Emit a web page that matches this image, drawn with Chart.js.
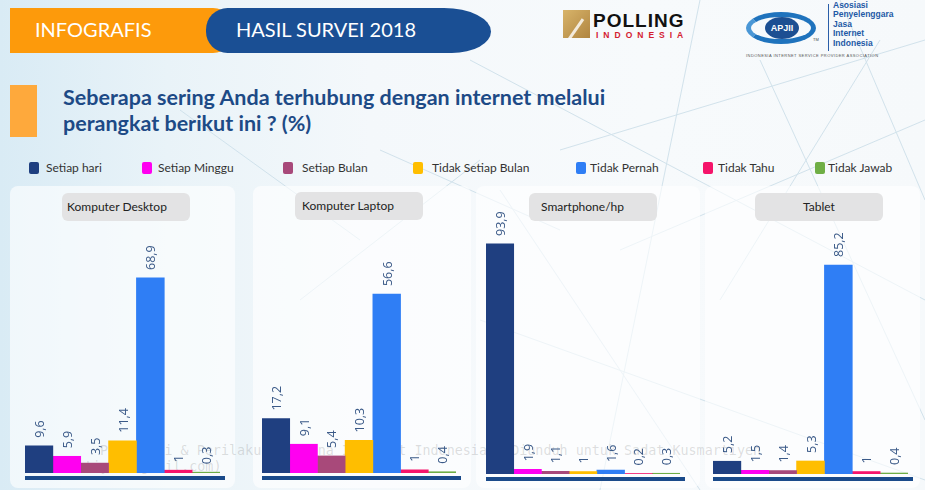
<!DOCTYPE html>
<html><head><meta charset="utf-8">
<script src="https://cdn.jsdelivr.net/npm/chart.js@4"></script>
<style>
html,body{margin:0;padding:0;}
body{width:925px;height:490px;overflow:hidden;position:relative;
 background:linear-gradient(90deg,#d9ebf5 0%,#e9f3f8 18%,#f4f8fb 40%,#f7fafc 70%,#f6f9fb 100%);
 font-family:Lato,"Open Sans",sans-serif;}
.abs{position:absolute;}
#net{position:absolute;left:0;top:0;}
.panel{position:absolute;top:186px;height:302px;background:rgba(255,255,255,0.62);border-radius:8px;}
.lbl{position:absolute;height:28px;background:#e3e3e4;border-radius:6px;font-size:12px;color:#222;line-height:28px;box-sizing:border-box;}
.leg{position:absolute;top:161px;font-size:12px;color:#333;line-height:14px;white-space:nowrap;}
.leg i{position:absolute;top:1px;width:10px;height:12px;border-radius:2px;}
canvas{position:absolute;}
.wm{position:absolute;font-family:"DejaVu Sans Mono",monospace;font-size:13.4px;color:rgba(110,110,110,0.22);white-space:nowrap;}
</style></head>
<body>
<svg id="net" width="925" height="490">
 <g stroke="#c9dde8" stroke-width="1" fill="none" opacity="0.8">
  <line x1="470" y1="60" x2="925" y2="300"/><line x1="560" y1="150" x2="925" y2="40"/>
  <line x1="700" y1="0" x2="600" y2="490"/><line x1="840" y1="0" x2="925" y2="200"/>
  <line x1="620" y1="250" x2="925" y2="120"/><line x1="480" y1="320" x2="925" y2="480"/>
  <line x1="760" y1="60" x2="925" y2="420"/><line x1="500" y1="190" x2="700" y2="490"/>
  <line x1="300" y1="300" x2="480" y2="160"/><line x1="880" y1="40" x2="720" y2="300"/>
  <line x1="180" y1="110" x2="360" y2="240"/><line x1="380" y1="150" x2="560" y2="230"/>
 </g>
</svg>

<!-- header -->
<div class="abs" style="left:10px;top:8px;width:225px;height:45px;background:#fd9a0b;border-radius:0 22px 22px 0;"></div>
<div class="abs" style="left:206px;top:8px;width:285px;height:45px;background:#1a4f94;border-radius:22px 48px 40px 22px / 22px 24px 22px 22px;"></div>
<div class="abs" style="left:35px;top:17px;font-size:20px;color:#fff;">INFOGRAFIS</div>
<div class="abs" style="left:236px;top:17px;font-size:20px;color:#fff;">HASIL SURVEI 2018</div>

<!-- polling logo -->
<div class="abs" style="left:563px;top:10px;width:27px;height:28px;background:linear-gradient(135deg,#d8b46a,#b08540);"></div>
<div class="abs" style="left:568px;top:14px;width:3px;height:24px;background:#fff;transform:rotate(35deg);transform-origin:bottom left;opacity:0.8"></div>
<div class="abs" style="left:593px;top:10px;font-family:'Liberation Sans',Arial,sans-serif;font-weight:bold;font-size:19px;letter-spacing:1px;color:#111;">POLLING</div>
<div class="abs" style="left:596px;top:30px;font-family:'Liberation Sans',Arial,sans-serif;font-weight:bold;font-size:8.5px;letter-spacing:5px;color:#d42030;">INDONESIA</div>

<!-- APJII logo -->
<div class="abs" style="left:746px;top:12px;width:70px;height:32px;border-radius:50%;border:5px solid #1f73bd;box-sizing:border-box;border-left-color:#4a97d6;"></div>
<div class="abs" style="left:765px;top:17px;width:34px;height:22px;border-radius:50%;background:#1c4f92;color:#fff;font-family:'Liberation Sans',Arial,sans-serif;font-weight:bold;font-size:9px;line-height:22px;text-align:center;">APJII</div>
<div class="abs" style="left:813px;top:37px;font-family:'Liberation Sans',Arial,sans-serif;font-size:4px;color:#444;">TM</div>
<div class="abs" style="left:828px;top:4px;width:1px;height:47px;background:#2a5ea8;"></div>
<div class="abs" style="left:833px;top:1px;font-family:'Liberation Sans',Arial,sans-serif;font-weight:bold;font-size:8.5px;line-height:9.4px;color:#1f5aa6;">Asosiasi<br>Penyelenggara<br>Jasa<br>Internet<br>Indonesia</div>
<div class="abs" style="left:746px;top:53px;font-family:'Liberation Sans',Arial,sans-serif;font-size:4px;letter-spacing:0.45px;color:#555;white-space:nowrap;">INDONESIA INTERNET SERVICE PROVIDER ASSOCIATION</div>

<!-- title -->
<div class="abs" style="left:10px;top:85px;width:27px;height:52px;background:#fea93c;"></div>
<div class="abs" style="left:63px;top:84px;font-size:21.5px;font-weight:bold;line-height:26px;color:#1d4a86;">Seberapa sering Anda terhubung dengan internet melalui<br>perangkat berikut ini ? (%)</div>

<div id="legend"></div>

<!-- panels -->
<div class="panel" style="left:10px;width:225px;"></div>
<div class="panel" style="left:253px;width:218px;"></div>
<div class="panel" style="left:476px;width:224px;"></div>
<div class="panel" style="left:705px;width:215px;"></div>

<div class="lbl" style="left:62px;top:193px;width:128px;padding-left:5px;" id="lb0"></div>
<div class="lbl" style="left:295px;top:192px;width:128px;padding-left:7px;" id="lb1"></div>
<div class="lbl" style="left:529px;top:193px;width:128px;padding-left:12px;" id="lb2"></div>
<div class="lbl" style="left:755px;top:193px;width:128px;text-align:center;" id="lb3"></div>

<div class="wm" style="left:100px;top:443px;">Penetrasi &amp; Perilaku Pengguna Internet Indonesia - Diunduh untuk Sadat Kusmartiyen</div>
<div class="wm" style="left:28px;top:459px;">(kusmartiyah9@gmail.com)</div>

<canvas id="c0" width="220" height="290" style="left:15px;top:200px;"></canvas>
<canvas id="c1" width="220" height="290" style="left:252px;top:200px;"></canvas>
<canvas id="c2" width="220" height="290" style="left:476px;top:200px;"></canvas>
<canvas id="c3" width="220" height="290" style="left:703px;top:200px;"></canvas>

<script>
// ---- data ----
const seriesNames = ["Setiap hari","Setiap Minggu","Setiap Bulan","Tidak Setiap Bulan","Tidak Pernah","Tidak Tahu","Tidak Jawab"];
const seriesColors = ["#1f3f80","#ff00f0","#a8497a","#ffbe00","#2f7ef5","#f5146a","#6fae45"];
const devices = ["Komputer Desktop","Komputer Laptop","Smartphone/hp","Tablet"];
const desktopValues = [9.6, 5.9, 3.5, 11.4, 68.9, 1, 0.3];
const laptopValues = [17.2, 9.1, 5.4, 10.3, 56.6, 1, 0.4];
const smartphoneValues = [93.9, 1.9, 1.1, 1, 1.6, 0.2, 0.3];
const tabletValues = [5.2, 1.5, 1.4, 5.3, 85.2, 1, 0.4];
const deviceValues = [desktopValues, laptopValues, smartphoneValues, tabletValues];

// ---- legend ----
const legX = [29, 142, 283, 413, 576, 703, 815];
const legTextX = [46, 158, 302, 432, 590, 718, 828];
const leg = document.getElementById('legend');
seriesNames.forEach((n,i)=>{
  const d = document.createElement('div');
  d.className='leg'; d.style.left = legX[i]+'px';
  d.innerHTML = '<i style="left:0;background:'+seriesColors[i]+'"></i><span style="position:absolute;left:'+(legTextX[i]-legX[i])+'px">'+n+'</span>';
  leg.appendChild(d);
});
devices.forEach((d,i)=>{ document.getElementById('lb'+i).textContent = d; });

// ---- charts ----
const panelCfg = [
  {max:82.3, pad:{left:10,right:15,top:40,bottom:17}},
  {max:73.7, pad:{left:10,right:16,top:40,bottom:17}},
  {max:95.5, pad:{left:10,right:16,top:40,bottom:16}},
  {max:95.4, pad:{left:10,right:15,top:40,bottom:16}}
];
const fmt = v => String(v).replace('.', ',');
const labelPlugin = {
  id:'vlabels',
  afterDatasetsDraw(chart){
    const ctx = chart.ctx, a = chart.chartArea;
    ctx.save();
    ctx.fillStyle = '#1a4a8a';
    ctx.fillRect(a.left, a.bottom + 3, a.right - a.left + 5, 4);
    ctx.font = '12.5px "Open Sans", sans-serif';
    ctx.fillStyle = '#3b5a88';
    ctx.textAlign = 'left';
    ctx.textBaseline = 'middle';
    chart.data.datasets.forEach((ds, di)=>{
      const meta = chart.getDatasetMeta(di);
      meta.data.forEach((bar, j)=>{
        ctx.save();
        ctx.translate(bar.x + 1.5, bar.y - 8);
        ctx.rotate(-Math.PI/2);
        ctx.fillText(fmt(ds.data[j]), 0, 0);
        ctx.restore();
      });
    });
    ctx.restore();
  }
};
deviceValues.forEach((vals, p)=>{
  new Chart(document.getElementById('c'+p), {
    type:'bar',
    data:{
      labels:[devices[p]],
      datasets: seriesNames.map((n,i)=>({label:n, data:[vals[i]], backgroundColor:seriesColors[i], borderWidth:0}))
    },
    options:{
      responsive:false, animation:false, devicePixelRatio:1,
      layout:{padding:panelCfg[p].pad},
      datasets:{bar:{categoryPercentage:1, barPercentage:1}},
      plugins:{legend:{display:false}, tooltip:{enabled:false}},
      scales:{
        x:{display:false},
        y:{display:false, min:0, max:panelCfg[p].max}
      }
    },
    plugins:[labelPlugin]
  });
});
</script>
</body></html>
